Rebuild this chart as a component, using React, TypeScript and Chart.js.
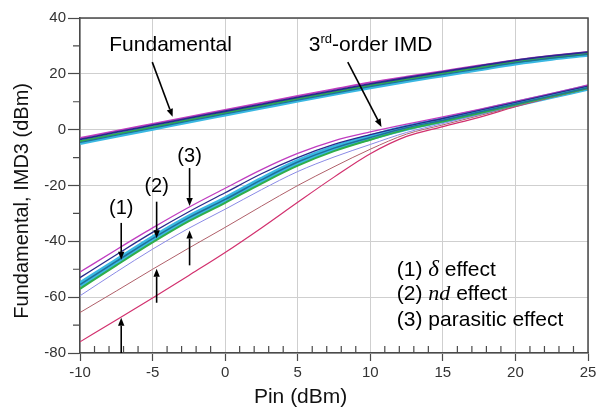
import React, { useEffect, useRef } from "react";
import { Chart, registerables } from "chart.js";

Chart.register(...registerables);

// ---------- data ----------
const pin = [-10, -7.5, -5, -2.5, 0, 2.5, 5, 7.5, 10, 12.5, 15, 17.5, 20, 22.5, 25];

// Fundamental output (dBm)
const fundMagenta = [-3.0, -0.4, 2.1, 4.6, 7.1, 9.6, 12.1, 14.5, 16.9, 19.0, 21.0, 23.0, 24.9, 26.5, 27.9];
const fundNavy = [-3.5, -0.9, 1.6, 4.1, 6.6, 9.1, 11.6, 14.0, 16.4, 18.6, 20.7, 22.8, 24.8, 26.4, 27.8];
const fundGreen = [-4.2, -1.6, 0.9, 3.5, 6.0, 8.5, 11.0, 13.4, 15.8, 18.0, 20.1, 22.2, 24.2, 25.8, 27.2];
const fundCyan = [-4.6, -2.0, 0.5, 3.1, 5.6, 8.1, 10.6, 13.0, 15.4, 17.6, 19.7, 21.8, 23.9, 25.6, 27.0];

// 3rd-order IMD output (dBm)
const imdMagenta = [-51.0, -43.0, -35.2, -27.8, -21.0, -14.3, -8.5, -4.0, -0.8, 2.0, 4.6, 7.3, 10.1, 13.0, 16.0];
const imdNavy = [-53.0, -44.8, -36.8, -29.4, -22.6, -15.8, -10.0, -5.3, -1.8, 1.3, 4.0, 6.9, 9.8, 12.7, 15.6];
const imdCyan = [-55.5, -47.2, -39.0, -31.5, -25.0, -18.0, -11.6, -6.6, -2.8, 0.7, 3.4, 6.3, 9.2, 12.1, 15.0];
const imdGreen = [-57.0, -48.6, -40.4, -32.8, -26.2, -19.3, -12.9, -7.7, -3.6, 0.1, 2.9, 5.9, 8.9, 11.9, 14.8];
const imdPurple = [-59.5, -51.0, -42.8, -35.3, -28.5, -21.5, -15.0, -9.8, -5.3, -1.0, 2.2, 5.4, 8.7, 11.8, 14.8];
const imdBrown = [-65.5, -57.8, -50.0, -42.4, -35.0, -27.4, -20.0, -13.3, -7.0, -1.6, 1.7, 5.0, 8.4, 11.7, 14.8];
const imdCrimson = [-76.0, -68.2, -60.3, -52.2, -44.0, -35.2, -26.0, -17.0, -8.6, -2.4, 1.1, 4.4, 8.2, 11.6, 14.8];

// axis ticks
const xMajorTicks = [-10, -5, 0, 5, 10, 15, 20, 25];
const yMajorTicks = [-80, -60, -40, -20, 0, 20, 40];

// annotation anchors (data coordinates)
const arrowsDown = [
  { x: -7.16, from: -33.4, to: -46.6 },
  { x: -4.72, from: -25.8, to: -38.9 },
  { x: -2.45, from: -13.75, to: -27.3 },
];
const arrowsUp = [
  { x: -7.16, from: -80, to: -67.4 },
  { x: -4.72, from: -62, to: -49.8 },
  { x: -2.45, from: -48.6, to: -36.1 },
];
const effectLabels = [
  { text: "(1)", x: -7.16, y: -27.7 },
  { text: "(2)", x: -4.72, y: -19.8 },
  { text: "(3)", x: -2.45, y: -9.1 },
];

const SANS = '"Liberation Sans", Arial, Helvetica, sans-serif';
const SERIF = '"Liberation Serif", "Times New Roman", serif';
const AXIS = "#4a4a4a";

function pts(ys: number[]) {
  return ys.map((v, i) => ({ x: pin[i], y: v }));
}

function line(data: number[], color: string, width: number) {
  return {
    data: pts(data),
    borderColor: color,
    backgroundColor: color,
    borderWidth: width,
    pointRadius: 0,
    fill: false,
    cubicInterpolationMode: "monotone" as const,
  };
}

function drawArrow(ctx: CanvasRenderingContext2D, x1: number, y1: number, x2: number, y2: number) {
  const ang = Math.atan2(y2 - y1, x2 - x1);
  const hl = 8, hw = 3.2;
  const bx = x2 - hl * Math.cos(ang), by = y2 - hl * Math.sin(ang);
  ctx.beginPath();
  ctx.moveTo(x1, y1);
  ctx.lineTo(bx, by);
  ctx.lineWidth = 1.6;
  ctx.strokeStyle = "#000";
  ctx.stroke();
  ctx.beginPath();
  ctx.moveTo(x2, y2);
  ctx.lineTo(bx + hw * Math.sin(ang), by - hw * Math.cos(ang));
  ctx.lineTo(bx - hw * Math.sin(ang), by + hw * Math.cos(ang));
  ctx.closePath();
  ctx.fillStyle = "#000";
  ctx.fill();
}

const decor = {
  id: "decor",
  afterDraw(chart: any) {
    const { ctx, chartArea: ca } = chart;
    const xs = chart.scales.x, ys = chart.scales.y;
    const X = (v: number) => xs.getPixelForValue(v);
    const Y = (v: number) => ys.getPixelForValue(v);
    ctx.save();

    // frame (top, right)
    ctx.strokeStyle = AXIS;
    ctx.lineWidth = 1.5;
    ctx.beginPath();
    ctx.moveTo(ca.left, ca.top);
    ctx.lineTo(ca.right, ca.top);
    ctx.lineTo(ca.right, ca.bottom);
    ctx.stroke();

    // minor ticks
    ctx.lineWidth = 1.2;
    ctx.beginPath();
    for (let v = -70; v < 40; v += 20) {
      ctx.moveTo(ca.left - 7, Y(v));
      ctx.lineTo(ca.left, Y(v));
    }
    for (let v = -9; v < 25; v++) {
      if (v % 5 === 0) continue;
      ctx.moveTo(X(v), ca.bottom);
      ctx.lineTo(X(v), ca.bottom - 7);
    }
    ctx.stroke();

    // axis titles
    ctx.fillStyle = "#111";
    ctx.font = `21px ${SANS}`;
    ctx.textAlign = "center";
    ctx.textBaseline = "middle";
    ctx.fillText("Pin (dBm)", X(5.2), 397);
    ctx.save();
    ctx.translate(22, Y(-25.5));
    ctx.rotate(-Math.PI / 2);
    ctx.font = `20px ${SANS}`;
    ctx.fillText("Fundamental, IMD3 (dBm)", 0, 0);
    ctx.restore();

    // labels
    ctx.fillStyle = "#000";
    ctx.font = `21px ${SANS}`;
    ctx.textAlign = "center";
    ctx.textBaseline = "alphabetic";
    ctx.fillText("Fundamental", X(-3.76), Y(28.3));

    // 3rd-order IMD
    ctx.textAlign = "left";
    let px = X(5.76);
    const by = Y(28.2);
    ctx.fillText("3", px, by);
    px += ctx.measureText("3").width;
    ctx.font = `13px ${SANS}`;
    ctx.fillText("rd", px, by - 8);
    px += ctx.measureText("rd").width;
    ctx.font = `21px ${SANS}`;
    ctx.fillText("-order IMD", px, by);

    // effect labels
    ctx.font = `20px ${SANS}`;
    ctx.textAlign = "center";
    for (const l of effectLabels) ctx.fillText(l.text, X(l.x), Y(l.y) + 7);

    // arrows
    drawArrow(ctx, X(-5.02), Y(24.2), X(-3.62), Y(4.6));
    drawArrow(ctx, X(8.45), Y(24.2), X(10.77), Y(1.0));
    for (const a of arrowsDown) drawArrow(ctx, X(a.x), Y(a.from), X(a.x), Y(a.to));
    for (const a of arrowsUp) drawArrow(ctx, X(a.x), Y(a.from), X(a.x), Y(a.to));

    // legend text
    ctx.textAlign = "left";
    const lx = X(11.83);
    const parts: [string, string][][] = [
      [["(1) ", `21px ${SANS}`], ["\u03B4", `italic 23px ${SERIF}`], [" effect", `21px ${SANS}`]],
      [["(2) ", `21px ${SANS}`], ["nd", `italic 22px ${SERIF}`], [" effect", `21px ${SANS}`]],
      [["(3) parasitic effect", `21px ${SANS}`]],
    ];
    const bases = [-52.3, -61.1, -70.2];
    parts.forEach((row, i) => {
      let x0 = lx;
      for (const [t, f] of row) {
        ctx.font = f;
        ctx.fillText(t, x0, Y(bases[i]));
        x0 += ctx.measureText(t).width;
      }
    });

    ctx.restore();
  },
};

export default function App() {
  const ref = useRef<HTMLCanvasElement>(null);
  useEffect(() => {
    if (!ref.current) return;
    const chart = new Chart(ref.current, {
      type: "line",
      data: {
        datasets: [
          { ...line(imdCyan, "#1f6f9a", 1.5) },
          { ...line(imdGreen, "#2fae4a", 2) },
          { ...line(imdNavy, "#2a2a8c", 1.3) },
          { ...line(imdMagenta, "#c03cc0", 1.3) },
          { ...line(imdPurple, "#8a8ae6", 1) },
          { ...line(imdBrown, "#b0606a", 1) },
          { ...line(imdCrimson, "#d2306e", 1.2) },
          { ...line(imdCyan, "#3ab8e2", 6) },
          { ...line(fundCyan, "#1f6f9a", 1.2) },
          { ...line(fundNavy, "#2a2a8c", 1.8) },
          { ...line(fundMagenta, "#c03cc0", 1.8) },
          { ...line(fundGreen, "#2fae4a", 2) },
          { ...line(fundCyan, "#3ab8e2", 5) },
        ],
      },
      options: {
        animation: false,
        responsive: false,
        layout: { padding: { top: 18, right: 12, left: 0, bottom: 0 } },
        plugins: { legend: { display: false }, tooltip: { enabled: false } },
        scales: {
          x: {
            type: "linear",
            min: -10,
            max: 25,
            afterFit: (s: any) => { s.height = 64; },
            afterBuildTicks: (s: any) => { s.ticks = xMajorTicks.map((v) => ({ value: v })); },
            ticks: { color: "#333", font: { family: SANS, size: 15 }, padding: 3 },
            grid: { color: "#cfcfcf", lineWidth: 1, tickColor: AXIS, tickLength: 8, tickWidth: 1.2 },
            border: { color: AXIS, width: 1.5 },
          },
          y: {
            type: "linear",
            min: -80,
            max: 40,
            afterFit: (s: any) => { s.width = 80; },
            afterBuildTicks: (s: any) => { s.ticks = yMajorTicks.map((v) => ({ value: v })); },
            ticks: { color: "#333", font: { family: SANS, size: 15 }, padding: 2 },
            grid: { color: "#cfcfcf", lineWidth: 1, tickColor: AXIS, tickLength: 12, tickWidth: 1.2 },
            border: { color: AXIS, width: 1.5 },
          },
        },
      },
      plugins: [decor],
    } as any);
    return () => chart.destroy();
  }, []);
  return (
    <div style={{ position: "fixed", left: 0, top: 0, width: 600, height: 417, background: "#fff" }}>
      <canvas ref={ref} width={600} height={417} style={{ display: "block" }} />
    </div>
  );
}
